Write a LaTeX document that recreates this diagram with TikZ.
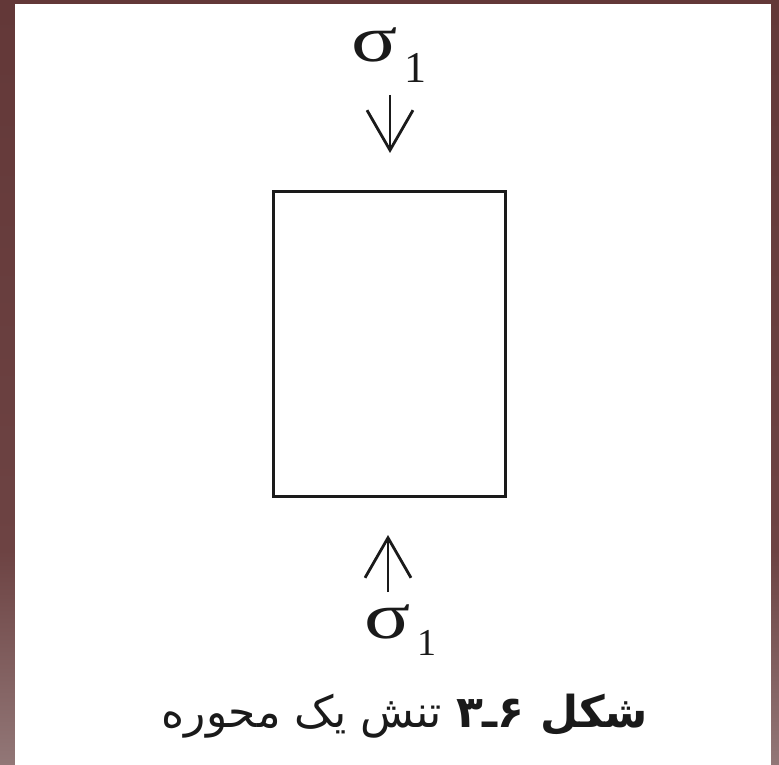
\documentclass[tikz,border=0pt]{standalone}
\usepackage{fontspec}
\usepackage{graphicx}
\usetikzlibrary{arrows.meta}
\TeXXeTstate=1
\newfontfamily\arabicfont[Script=Arabic]{DejaVu Sans}
\newfontfamily\grkfont{Liberation Serif}
\definecolor{bordT}{HTML}{633838}
\definecolor{bordM}{HTML}{6D4343}
\definecolor{bordB}{HTML}{927777}
\definecolor{ink}{HTML}{1A1A1A}
\pgfdeclareverticalshading{bordershade}{100bp}{color(0bp)=(bordB); color(25bp)=(bordB); color(39bp)=(bordM); color(75bp)=(bordT); color(100bp)=(bordT)}
\tikzset{
  force/.style={draw=ink, line width=2.8pt, -{Straight Barb[length=40pt,width=46pt,line width=2.8pt]}},
  sigmalabel/.style={inner sep=0pt, anchor=base west, text=ink, font=\grkfont\fontsize{66}{66}\selectfont},
  body/.style={draw=ink, line width=3pt, minimum width=232pt, minimum height=305pt, inner sep=0pt},
  caption/.style={inner sep=0pt, anchor=base, text=ink, font=\arabicfont\fontsize{44}{52}\selectfont}
}
\newcommand{\sigone}[2]{\scalebox{1.3}[1]{σ}\hspace{7pt}\raisebox{-#1}{\fontsize{#2}{#2}\selectfont 1}}
\begin{document}
\begin{tikzpicture}[x=1pt,y=-1pt]
\useasboundingbox (0,0) rectangle (779,765);
\path[shading=bordershade] (0,0) rectangle (779,765);
\fill[white] (15,4) rectangle (771,765);
\node[body] (box) at (389,343.5) {};
\node[sigmalabel] (s1) at (351,62) {\sigone{21pt}{44}};
\node[sigmalabel] (s2) at (364,638) {\sigone{17pt}{38}};
\coordinate (a1s) at (390,95);
\coordinate (a1e) at (390,153);
\coordinate (a2s) at (388,592);
\coordinate (a2e) at (388,535);
\draw[force] (a1s) -- (a1e);
\draw[force] (a2s) -- (a2e);
\node[caption] (cap) at (405,727) {\beginR{\bfseries شکل ۶ـ۳} تنش یک محوره\endR};
\end{tikzpicture}
\end{document}
